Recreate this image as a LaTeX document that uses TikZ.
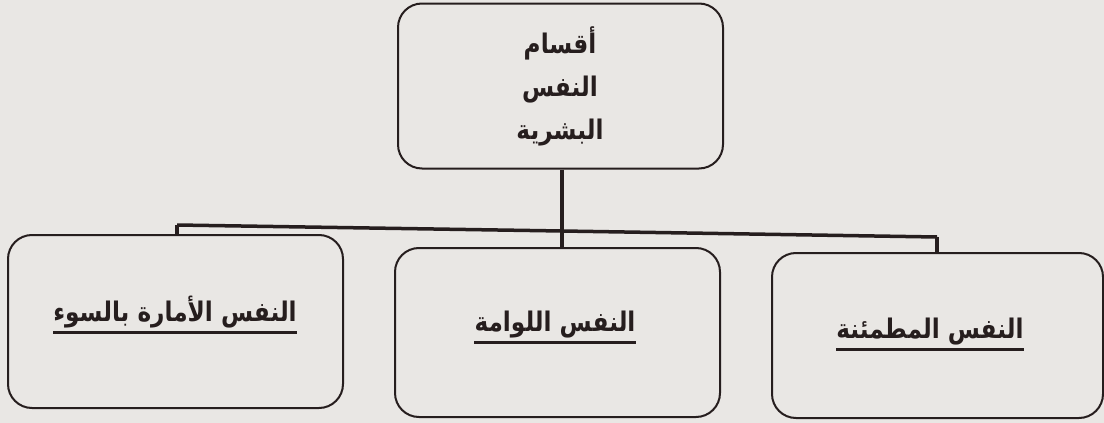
\documentclass[tikz,border=0pt]{standalone}
\usepackage{fontspec}
\newfontfamily\arabicfont[Script=Arabic,FakeStretch=0.86]{DejaVu Sans}
\TeXXeTstate=1
\definecolor{bg}{RGB}{233,231,228}
\definecolor{ink}{RGB}{38,30,30}
\tikzset{
  box/.style={draw=ink, line width=2pt, rounded corners=24pt, fill=none},
  conn/.style={draw=ink, line width=3.5pt},
  lbl/.style={inner sep=0pt, text=ink, font=\arabicfont\bfseries\fontsize{27}{43}\selectfont},
  uline/.style={draw=ink, line width=3pt},
}
\begin{document}
\begin{tikzpicture}[x=1pt,y=-1pt]
\fill[bg] (0,0) rectangle (1104,423);
\useasboundingbox (0,0) rectangle (1104,423);
% boxes
\node[box, minimum width=325pt, minimum height=165pt] (top) at (560.5,86) {};
\node[box, minimum width=335pt, minimum height=173pt] (left) at (175.5,321.5) {};
\node[box, minimum width=325pt, minimum height=169pt] (mid) at (557.5,332.5) {};
\node[box, minimum width=331pt, minimum height=165pt] (right) at (937.5,335.5) {};
% connectors
\coordinate (jl) at (177,225);
\coordinate (jm) at (562,231);
\coordinate (jr) at (937,237);
\draw[conn] (jl) -- (jm) -- (jr);
\draw[conn] (top.south -| jm) -- (mid.north -| jm);
\draw[conn] (jl) -- (left.north -| jl);
\draw[conn] (jr) -- (right.north -| jr);
% texts
\node[lbl, align=center] (toptext) at (560,86) {\beginR أقسام\endR\\\beginR النفس\endR\\\beginR البشرية\endR};
\node[lbl, anchor=base] (lt) at (175,321) {\beginR النفس الأمارة بالسوء\endR};
\node[lbl, anchor=base] (mt) at (555,331) {\beginR النفس اللوامة\endR};
\node[lbl, anchor=base] (rt) at (930,338) {\beginR النفس المطمئنة\endR};
\draw[uline] ([yshift=-11pt]lt.base west) -- ([yshift=-11pt]lt.base east);
\draw[uline] ([yshift=-11pt]mt.base west) -- ([yshift=-11pt]mt.base east);
\draw[uline] ([yshift=-11pt]rt.base west) -- ([yshift=-11pt]rt.base east);
\end{tikzpicture}
\end{document}
